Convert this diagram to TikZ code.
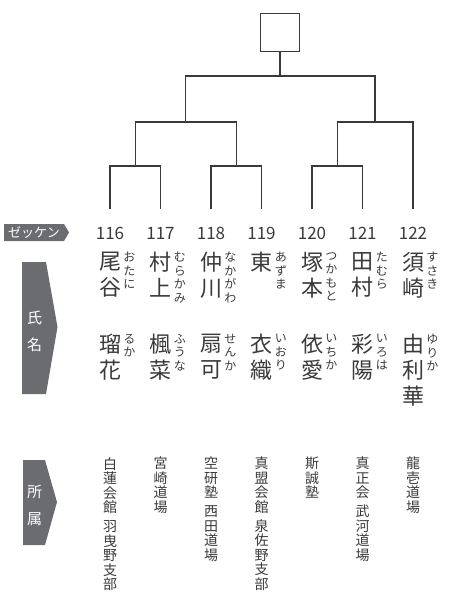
\documentclass[tikz,border=0pt]{standalone}
\usepackage{fontspec}
\setmainfont{Noto Sans CJK JP}
\usetikzlibrary{positioning}
\definecolor{inkgray}{HTML}{3A3A3A}
\definecolor{taggray}{HTML}{6B6C70}
\tikzstyle{bracket}=[draw=inkgray, line width=1.3bp]
\tikzstyle{num}=[inner sep=0pt, text=inkgray, font=\fontsize{17bp}{20bp}\selectfont]
\tikzstyle{kanji}=[inner sep=0pt, anchor=north, align=center, text=inkgray, font=\fontsize{22bp}{26bp}\selectfont]
\tikzstyle{kana}=[inner sep=0pt, align=center, text=inkgray, font=\fontsize{12bp}{13.5bp}\selectfont]
\tikzstyle{aff}=[inner sep=0pt, anchor=north, align=center, text=inkgray, font=\fontsize{14bp}{14.5bp}\selectfont]
\tikzstyle{tag}=[fill=taggray]
\tikzstyle{tagtext}=[inner sep=0pt, align=center, text=white, font=\fontsize{15bp}{27bp}\selectfont]

\begin{document}
\begin{tikzpicture}[x=1bp, y=-1bp, node distance=50.5bp]
    \useasboundingbox (0,0) rectangle (467,594);
    % rows
    \coordinate (rowtop) at (0,209);
    \coordinate (rowsei) at (0,252);
    \coordinate (rowmei) at (0,334);
    \coordinate (rowaff) at (0,457);
    % numbers
    \node[num] (n116) at (110,233) {116};
    \node[num, right of=n116] (n117) {117};
    \node[num, right of=n117] (n118) {118};
    \node[num, right of=n118] (n119) {119};
    \node[num, right of=n119] (n120) {120};
    \node[num, right of=n120] (n121) {121};
    \node[num, right of=n121] (n122) {122};
    % bracket
    \node[bracket, minimum size=38.5bp, inner sep=0pt] (champ) at (280,32.5) {};
    \coordinate (l116) at (n116 |- rowtop);
    \coordinate (l117) at (n117 |- rowtop);
    \coordinate (l118) at (n118 |- rowtop);
    \coordinate (l119) at (n119 |- rowtop);
    \coordinate (l120) at (n120 |- rowtop);
    \coordinate (l121) at (n121 |- rowtop);
    \coordinate (l122) at (n122 |- rowtop);
    \coordinate (q1) at (135.25,166);
    \coordinate (q2) at (236.25,166);
    \coordinate (q3) at (337.25,166);
    \coordinate (s1) at (185.75,122);
    \coordinate (s2) at (375.1,122);
    \coordinate (f) at (280,76);
    \draw[bracket] (l116) |- (q1) -| (l117);
    \draw[bracket] (l118) |- (q2) -| (l119);
    \draw[bracket] (l120) |- (q3) -| (l121);
    \draw[bracket] (q1) |- (s1) -| (q2);
    \draw[bracket] (q3) |- (s2) -| (l122);
    \draw[bracket] (s1) |- (f) -| (s2);
    \draw[bracket] (f) -- (champ);
    % tags
    \fill[tag] (4,224) -- (64,224) -- (69,232.5) -- (64,241) -- (4,241) -- cycle;
    \node[tagtext, font=\fontsize{13bp}{15bp}\selectfont] (zekken) at (34,232.5) {ゼッケン};
    \fill[tag] (22,262) -- (46,262) -- (57.5,327) -- (46,394) -- (22,394) -- cycle;
    \node[tagtext] (shimei) at (34.5,331) {氏\\名};
    \fill[tag] (23,460) -- (45,460) -- (57,502) -- (45,545) -- (23,545) -- cycle;
    \node[tagtext] (shozoku) at (34.5,505) {所\\属};
    % 116
    \node[kanji] (sei116) at (n116 |- rowsei) {尾\\谷};
    \node[kana, right=2bp of sei116.north east, anchor=north west] (seiy116) {お\\た\\に};
    \node[kanji] (mei116) at (n116 |- rowmei) {瑠\\花};
    \node[kana, right=2bp of mei116.north east, anchor=north west] (meiy116) {る\\か};
    \node[aff] (aff116) at (n116 |- rowaff) {白\\蓮\\会\\館\\[4.5bp]羽\\曳\\野\\支\\部};
    % 117
    \node[kanji] (sei117) at (n117 |- rowsei) {村\\上};
    \node[kana, right=2bp of sei117.north east, anchor=north west] (seiy117) {む\\ら\\か\\み};
    \node[kanji] (mei117) at (n117 |- rowmei) {楓\\菜};
    \node[kana, right=2bp of mei117.north east, anchor=north west] (meiy117) {ふ\\う\\な};
    \node[aff] (aff117) at (n117 |- rowaff) {宮\\崎\\道\\場};
    % 118
    \node[kanji] (sei118) at (n118 |- rowsei) {仲\\川};
    \node[kana, right=2bp of sei118.north east, anchor=north west] (seiy118) {な\\か\\が\\わ};
    \node[kanji] (mei118) at (n118 |- rowmei) {扇\\可};
    \node[kana, right=2bp of mei118.north east, anchor=north west] (meiy118) {せ\\ん\\か};
    \node[aff] (aff118) at (n118 |- rowaff) {空\\研\\塾\\[4.5bp]西\\田\\道\\場};
    % 119
    \node[kanji] (sei119) at (n119 |- rowsei) {東};
    \node[kana, right=2bp of sei119.north east, anchor=north west] (seiy119) {あ\\ず\\ま};
    \node[kanji] (mei119) at (n119 |- rowmei) {衣\\織};
    \node[kana, right=2bp of mei119.north east, anchor=north west] (meiy119) {い\\お\\り};
    \node[aff] (aff119) at (n119 |- rowaff) {真\\盟\\会\\館\\[4.5bp]泉\\佐\\野\\支\\部};
    % 120
    \node[kanji] (sei120) at (n120 |- rowsei) {塚\\本};
    \node[kana, right=2bp of sei120.north east, anchor=north west] (seiy120) {つ\\か\\も\\と};
    \node[kanji] (mei120) at (n120 |- rowmei) {依\\愛};
    \node[kana, right=2bp of mei120.north east, anchor=north west] (meiy120) {い\\ち\\か};
    \node[aff] (aff120) at (n120 |- rowaff) {斯\\誠\\塾};
    % 121
    \node[kanji] (sei121) at (n121 |- rowsei) {田\\村};
    \node[kana, right=2bp of sei121.north east, anchor=north west] (seiy121) {た\\む\\ら};
    \node[kanji] (mei121) at (n121 |- rowmei) {彩\\陽};
    \node[kana, right=2bp of mei121.north east, anchor=north west] (meiy121) {い\\ろ\\は};
    \node[aff] (aff121) at (n121 |- rowaff) {真\\正\\会\\[4.5bp]武\\河\\道\\場};
    % 122
    \node[kanji] (sei122) at (n122 |- rowsei) {須\\崎};
    \node[kana, right=2bp of sei122.north east, anchor=north west] (seiy122) {す\\さ\\き};
    \node[kanji] (mei122) at (n122 |- rowmei) {由\\利\\華};
    \node[kana, right=2bp of mei122.north east, anchor=north west] (meiy122) {ゆ\\り\\か};
    \node[aff] (aff122) at (n122 |- rowaff) {龍\\壱\\道\\場};
\end{tikzpicture}
\end{document}
